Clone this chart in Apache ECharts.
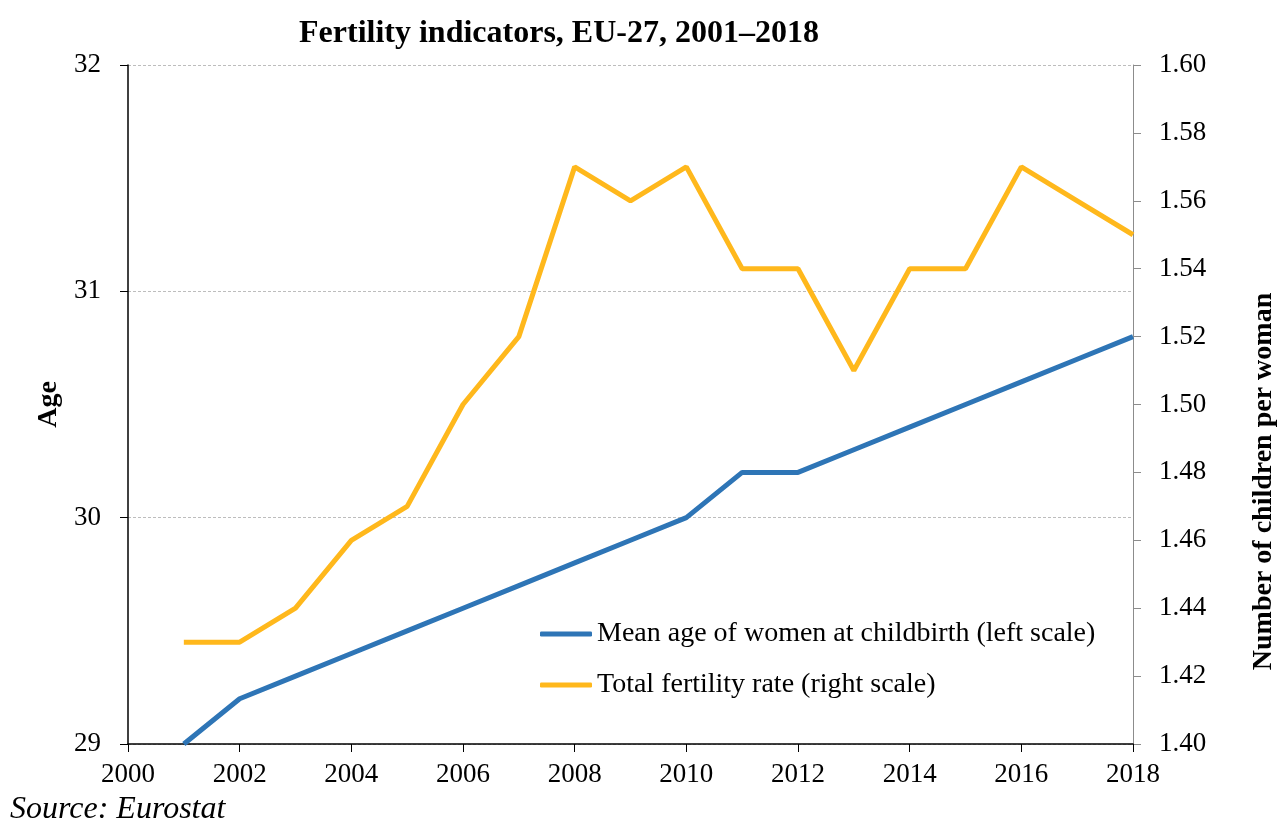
<!DOCTYPE html>
<html>
<head>
<meta charset="utf-8">
<title>Fertility indicators, EU-27, 2001–2018</title>
<script src="https://cdn.jsdelivr.net/npm/echarts@6/dist/echarts.min.js"></script>
<style>
  html, body { margin: 0; padding: 0; background: #fff; }
  #chart { width: 1277px; height: 826px; }
</style>
</head>
<body>
<div id="chart"></div>
<script>
// 年份 + 两条序列（从图上读出来的）
const years = [2001, 2002, 2003, 2004, 2005, 2006, 2007, 2008, 2009, 2010, 2011, 2012, 2013, 2014, 2015, 2016, 2017, 2018]
const meanAge = [29.0, 29.2, 29.3, 29.4, 29.5, 29.6, 29.7, 29.8, 29.9, 30.0, 30.2, 30.2, 30.3, 30.4, 30.5, 30.6, 30.7, 30.8]
const fertilityRate = [1.43, 1.43, 1.44, 1.46, 1.47, 1.50, 1.52, 1.57, 1.56, 1.57, 1.54, 1.54, 1.51, 1.54, 1.54, 1.57, 1.56, 1.55]
const seriesNames = ['Mean age of women at childbirth (left scale)', 'Total fertility rate (right scale)']

const serif = '"Liberation Serif", "Times New Roman", serif'
const chart = echarts.init(document.getElementById('chart'))

const option = {
  animation: false,
  textStyle: { fontFamily: serif, color: '#000' },
  title: {
    text: 'Fertility indicators, EU-27, 2001–2018',
    left: 554,
    textAlign: 'center',
    top: 13,
    textStyle: { fontFamily: serif, fontSize: 32, fontWeight: 'bold', color: '#000' }
  },
  // v6 默认会把轴名字挤进容器里，关掉，按像素放
  grid: { left: 128, right: 144, top: 65, bottom: 82, outerBoundsMode: 'none' },
  legend: {
    orient: 'vertical',
    left: 540,
    top: 620,
    padding: 0,
    itemWidth: 52,
    itemHeight: 5,
    itemGap: 23,
    icon: 'roundRect',
    data: seriesNames,
    textStyle: { fontFamily: serif, fontSize: 28, color: '#000' }
  },
  xAxis: {
    type: 'value',
    min: 2000,
    max: 2018,
    interval: 2,
    axisLine: { lineStyle: { color: '#000', width: 1.5 } },
    axisTick: { show: true, length: 8, lineStyle: { color: '#000' } },
    axisLabel: {
      fontFamily: serif, fontSize: 27, color: '#000', margin: 17,
      formatter: v => String(v)
    },
    splitLine: { show: false }
  },
  yAxis: [
    {
      type: 'value',
      min: 29,
      max: 32,
      interval: 1,
      name: 'Age',
      nameLocation: 'middle',
      nameRotate: 90,
      nameGap: 60,
      nameTextStyle: { fontFamily: serif, fontSize: 28, fontWeight: 'bold', color: '#000' },
      axisLine: { show: true, lineStyle: { color: '#000', width: 1.5 } },
      axisTick: { show: true, length: 8, lineStyle: { color: '#000' } },
      axisLabel: { fontFamily: serif, fontSize: 27, color: '#000', margin: 27 },
      splitLine: { show: true, lineStyle: { color: '#bdbdbd', width: 1, type: [3, 2] } }
    },
    {
      type: 'value',
      position: 'right',
      min: 1.40,
      max: 1.60,
      interval: 0.02,
      name: 'Number of children per woman',
      nameLocation: 'middle',
      nameRotate: 90,
      nameGap: 117,
      nameTextStyle: { fontFamily: serif, fontSize: 28, fontWeight: 'bold', color: '#000', padding: [0, 154, 0, 0] },
      axisLine: { show: true, lineStyle: { color: '#8c8c8c', width: 1 } },
      axisTick: { show: true, length: 8, lineStyle: { color: '#8c8c8c' } },
      axisLabel: {
        fontFamily: serif, fontSize: 27, color: '#000', margin: 26,
        formatter: v => v.toFixed(2)
      },
      splitLine: { show: false }
    }
  ],
  series: [
    {
      name: seriesNames[0],
      type: 'line',
      yAxisIndex: 0,
      data: years.map((y, i) => [y, meanAge[i]]),
      showSymbol: false,
      symbol: 'none',
      lineStyle: { color: '#2E75B6', width: 5 },
      itemStyle: { color: '#2E75B6' },
      z: 3
    },
    {
      name: seriesNames[1],
      type: 'line',
      yAxisIndex: 1,
      data: years.map((y, i) => [y, fertilityRate[i]]),
      showSymbol: false,
      symbol: 'none',
      lineStyle: { color: '#FFB81C', width: 5 },
      itemStyle: { color: '#FFB81C' },
      z: 2
    }
  ],
  graphic: [
    {
      type: 'text',
      left: 10,
      top: 794,
      style: { text: 'Source: Eurostat', font: 'italic 32px ' + serif, fill: '#000' }
    }
  ]
}

chart.setOption(option)
</script>
</body>
</html>
